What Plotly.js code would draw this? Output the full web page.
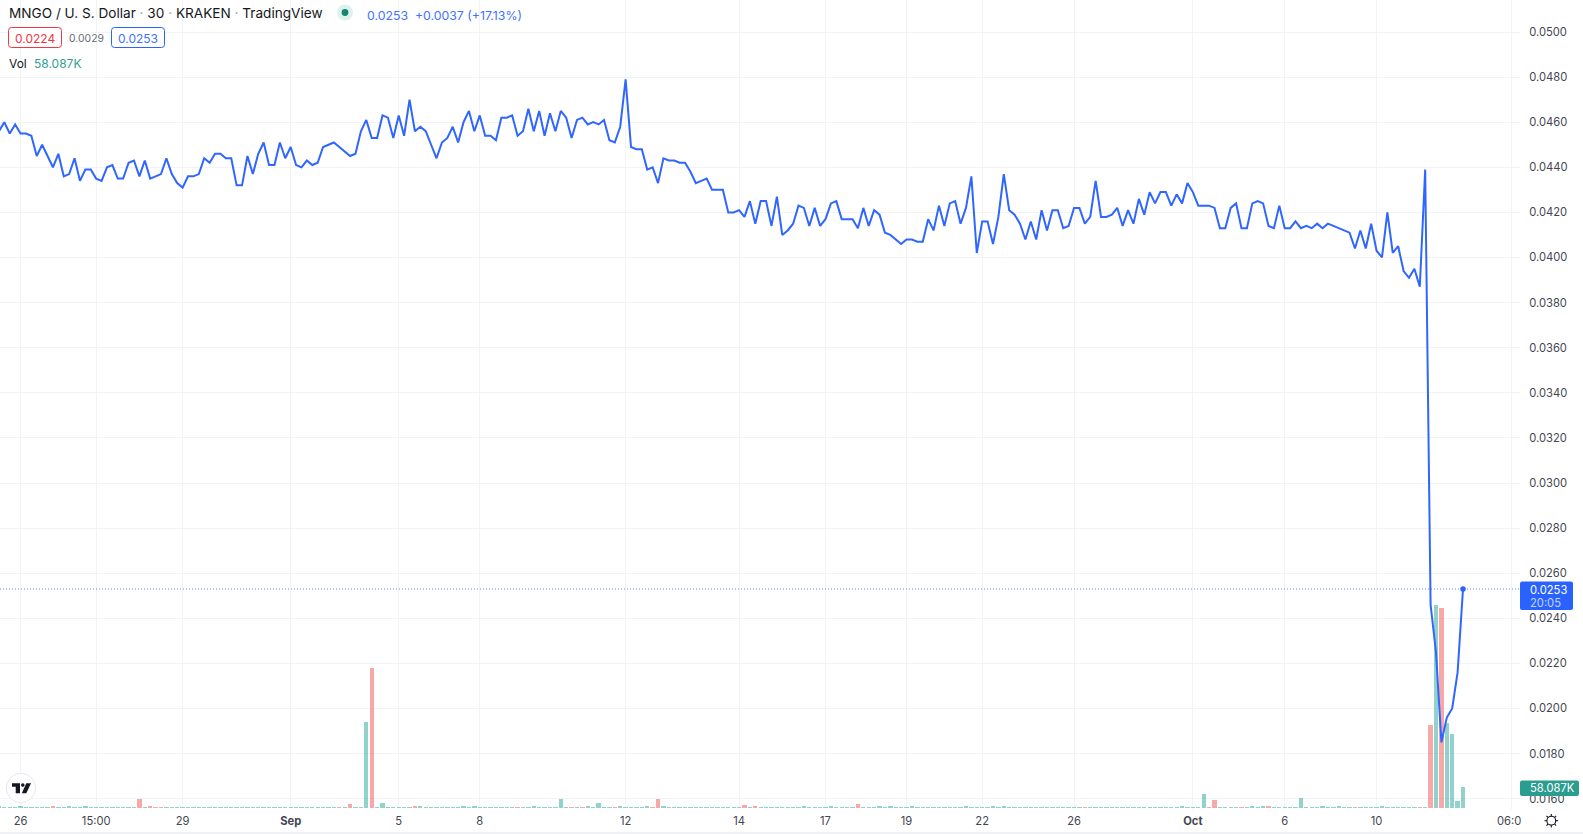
<!DOCTYPE html>
<html>
<head>
<meta charset="utf-8">
<script src="https://cdn.plot.ly/plotly-3.0.1.min.js"></script>
<style>html,body{margin:0;padding:0;background:#fff;overflow:hidden}#chart{width:1583px;height:834px}</style>
</head>
<body>
<div id="chart"></div>
<script>
// Close prices in units of 0.0001, bar index -1 .. 270
const closeUnits = [
456,460,455,459,455,455,454,445,450,445,440,446,436,437,444,434,439,439,435,434,
440,441,435,435,442,443,436,443,435,436,437,444,437,433,431,436,436,437,444,442,
446,446,444,444,432,432,445,437,446,451,441,
441,451,444,449,441,440,443,441,442,449,450,451,449,447,445,446,456,461,453,453,
463,462,453,463,454,470,456,458,456,450,444,451,453,458,451,460,465,456,463,454,
454,452,462,462,463,454,456,466,456,465,
454,464,456,465,462,453,461,462,459,460,459,461,452,451,458,479,449,448,448,439,
440,433,444,443,443,442,442,438,433,434,435,430,430,430,420,420,421,418,425,415,
425,425,414,427,410,412,415,423,422,414,
422,414,417,424,425,417,417,417,413,422,414,421,419,411,410,408,406,408,408,407,
407,417,412,423,414,424,425,415,422,436,402,416,416,406,418,437,421,419,415,408,
416,408,421,412,421,421,413,414,422,422,
415,418,434,418,418,419,422,414,421,415,426,419,429,424,429,429,423,428,424,433,
429,423,423,423,422,413,413,422,424,413,413,424,425,424,414,413,423,413,413,416,
413,414,413,415,413,415,414,413,412,411,
404,412,404,415,403,400,420,402,405,394,391,395,387,439,
246,225,185,196,200,216,253
];
// Volume in thousands, same bar index
const volumeK = [
6,3,3,3,5,3,3,3,3,3,5,3,3,5,3,3,5,3,3,3,
3,3,3,3,3,3,25,3,5,2,2,3,3,3,3,3,3,3,3,3,
3,3,3,3,3,3,3,3,3,3,3,3,3,3,3,3,3,3,3,3,
3,3,3,2,3,10,3,3,244,398,3,12,3,3,3,3,3,5,4,3,
3,3,3,3,3,3,4,3,4,3,3,3,3,3,3,3,2,3,3,4,
3,3,3,3,24,3,2,3,2,4,3,12,3,3,2,5,3,3,3,3,
4,2,24,4,3,3,3,3,3,3,3,3,3,3,3,3,3,3,7,3,
5,3,3,3,3,3,3,3,3,5,3,3,3,3,4,3,3,3,3,11,
3,3,3,4,3,6,3,3,3,4,3,3,3,3,3,3,3,3,3,4,
3,3,3,3,4,3,4,3,3,3,3,3,3,3,3,3,3,3,3,3,
3,2,3,3,3,3,3,3,3,3,3,3,3,3,3,3,3,3,3,4,
3,3,3,40,2,22,3,3,3,3,2,3,5,3,4,5,3,3,3,3,
3,29,3,3,3,4,3,3,6,3,3,2,3,3,3,3,4,3,3,3,
3,3,3,2,3,235,577,569,240,210,20,58.087
];
const downBars = [9,25,27,28,29,62,64,68,76,95,105,107,113,120,121,137,139,158,200,223,224,229,234,250,262,264,266];
const timeTickBars = [3,17,33,53,73,88,115,136,152,167,181,198,220,237,254,279];
const timeTickText = ['26','15:00','29','<b>Sep</b>','5','8','12','14','17','19','22','26','<b>Oct</b>','6','10',''];
const priceTicks = [0.05,0.048,0.046,0.044,0.042,0.04,0.038,0.036,0.034,0.032,0.03,0.028,0.026,0.024,0.022,0.02,0.018,0.016];
const lastPrice = 0.0253;

const W = 1583, H = 834, PW = 1520, PH = 809;
const barIndex = closeUnits.map((_, k) => k - 1);
const closes = closeUnits.map(v => +(v * 1e-4).toFixed(4));
const barColors = barIndex.map(i => downBars.includes(i) ? 'rgba(239,83,80,0.5)' : 'rgba(38,166,154,0.5)');

const FONT = 'Inter, "Liberation Sans", sans-serif';
const px = x => x / PW, py = y => 1 - y / PH;
const BLUE = '#2962ff', TEAL = '#26a69a', RED = '#f23645', GRID = '#f2f3f5';

function label(x, y, text, size, color, anchor) {
  return {xref:'paper', yref:'paper', x:px(x), y:py(y), text, showarrow:false, xanchor:anchor||'left', yanchor:'middle',
    align:anchor||'left', font:{family:FONT, size, color}, borderpad:0, borderwidth:0};
}
function P(x,y){return px(x)+','+py(y);}
function roundBox(x0,y0,x1,y1,r,fill,line){
  const d = 'M'+P(x0+r,y0)+'L'+P(x1-r,y0)+'Q'+P(x1,y0)+' '+P(x1,y0+r)+'L'+P(x1,y1-r)+'Q'+P(x1,y1)+' '+P(x1-r,y1)+
    'L'+P(x0+r,y1)+'Q'+P(x0,y1)+' '+P(x0,y1-r)+'L'+P(x0,y0+r)+'Q'+P(x0,y0)+' '+P(x0+r,y0)+'Z';
  return {type:'path', xref:'paper', yref:'paper', path:d, fillcolor:fill, line:line?{color:line,width:1}:{width:0}};
}
function circle(cx,cy,r,fill,line,lw){
  return {type:'circle', xref:'paper', yref:'paper', x0:px(cx-r), x1:px(cx+r), y0:py(cy+r), y1:py(cy-r),
    fillcolor:fill, line:line?{color:line,width:lw||1}:{width:0}};
}
function poly(points,fill){
  return {type:'path', xref:'paper', yref:'paper', path:'M'+points.map(p=>P(p[0],p[1])).join('L')+'Z', fillcolor:fill, line:{width:0}};
}
function seg(x0,y0,x1,y1,color,w){
  return {type:'line', xref:'paper', yref:'paper', x0:px(x0), x1:px(x1), y0:py(y0), y1:py(y1), line:{color,width:w||1}};
}

const gearX = 1551.3, gearY = 820.7;
const gearRays = [[0,-1],[0.71,-0.71],[1,0],[0.71,0.71],[0,1],[-0.71,0.71],[-1,0],[-0.71,-0.71]]
  .map(d => seg(gearX+d[0]*4.5, gearY+d[1]*4.5, gearX+d[0]*6.8, gearY+d[1]*6.8, '#131722', 1.1));

const shapes = [
  {type:'line', xref:'paper', yref:'y2', x0:0, x1:1, y0:lastPrice, y1:lastPrice, line:{color:'rgba(41,98,255,0.75)', width:1, dash:'1px,2px'}},
  seg(0,833,W,833,'#e0e3eb',1),
  circle(345,12.5,8,'#dff1ed'),
  circle(345,12.5,3.4,'#13866f'),
  roundBox(8.5,27.5,61.5,47.5,3,'#ffffff',RED),
  roundBox(111.5,27.5,164.5,47.5,3,'#ffffff',BLUE),
  roundBox(1520,581.5,1573,610,2,BLUE),
  roundBox(1520,780.5,1579,796,2,'#2a9d8f'),
  circle(21,788,14.7,'#ffffff','#e6e8ee',1),
  poly([[12,783.3],[20,783.3],[20,793.3],[15.7,793.3],[15.7,786.8],[12,786.8]],'#131722'),
  circle(22.8,785.1,1.8,'#131722'),
  poly([[26.3,783.3],[31,783.3],[26.3,793.3],[21.8,793.3]],'#131722'),
  circle(gearX,gearY,4.4,'#ffffff','#131722',1.1)
].concat(gearRays);

const annotations = [
  label(9,13.5,'MNGO / U. S. Dollar<span style="color:#9598a1"> · </span>30<span style="color:#9598a1"> · </span>KRAKEN<span style="color:#9598a1"> · </span>TradingView',13.6,'#131722'),
  label(367,15,'0.0253  +0.0037 (+17.13%)',12.3,'#3f72ff'),
  label(35,38,'0.0224',12,RED,'center'),
  label(86,38.5,'0.0029',10.4,'#6a6d78','center'),
  label(138,38,'0.0253',12,'#3f72ff','center'),
  label(9,63,'Vol',12,'#131722'),
  label(33.5,63,'58.087K',12,'#2f9e8f'),
  label(1529.5,590,'0.0253',11.2,'#ffffff'),
  label(1529.5,602.5,'20:05',11.2,'#c4d2ff'),
  label(1529.5,788,'58.087K',11.2,'#ffffff'),
  label(1496.5,820.7,'06:0',11.2,'#434651')
];

const traces = [
  {type:'bar', x:barIndex, y:volumeK, yaxis:'y', marker:{color:barColors, line:{width:0}}, width:0.8, hoverinfo:'skip'},
  {type:'scatter', mode:'lines', x:barIndex, y:closes, yaxis:'y2', line:{color:'#2f66ff', width:2, shape:'linear'}, hoverinfo:'skip'},
  {type:'scatter', mode:'markers', x:[barIndex[barIndex.length-1]], y:[closes[closes.length-1]], yaxis:'y2', marker:{color:BLUE, size:5.5}, hoverinfo:'skip'}
];

// pixel scale: x = 4.33 + 5.4025*i; price 0.05 at y = 32, 22550 px per unit; volume base at y = 807.7, 2.847K per px
const layout = {
  width:W, height:H, autosize:false, showlegend:false,
  margin:{l:0, r:W-PW, t:0, b:H-PH, pad:0},
  paper_bgcolor:'#ffffff', plot_bgcolor:'#ffffff',
  bargap:0,
  xaxis:{range:[(0-4.33)/5.4025,(PW-4.33)/5.4025], tickmode:'array', tickvals:timeTickBars, ticktext:timeTickText,
    showgrid:true, gridcolor:GRID, gridwidth:1, zeroline:false, showline:false, ticks:'outside', ticklen:2, tickcolor:'rgba(0,0,0,0)',
    tickfont:{family:FONT, size:11.2, color:'#434651'}, tickangle:0, fixedrange:true},
  yaxis:{range:[-3.7,2299.5], visible:false, showgrid:false, zeroline:false, fixedrange:true},
  yaxis2:{overlaying:'y', side:'right', anchor:'x', range:[0.05-(PH-32)/22550, 0.05+32/22550], tickmode:'array', tickvals:priceTicks,
    tickformat:'.4f', showgrid:true, gridcolor:GRID, gridwidth:1, zeroline:false, showline:false, ticks:'outside', ticklen:6, tickcolor:'rgba(0,0,0,0)',
    tickfont:{family:FONT, size:11.2, color:'#434651'}, fixedrange:true},
  shapes, annotations
};
Plotly.newPlot('chart', traces, layout, {displayModeBar:false, staticPlot:true});
</script>
</body>
</html>
